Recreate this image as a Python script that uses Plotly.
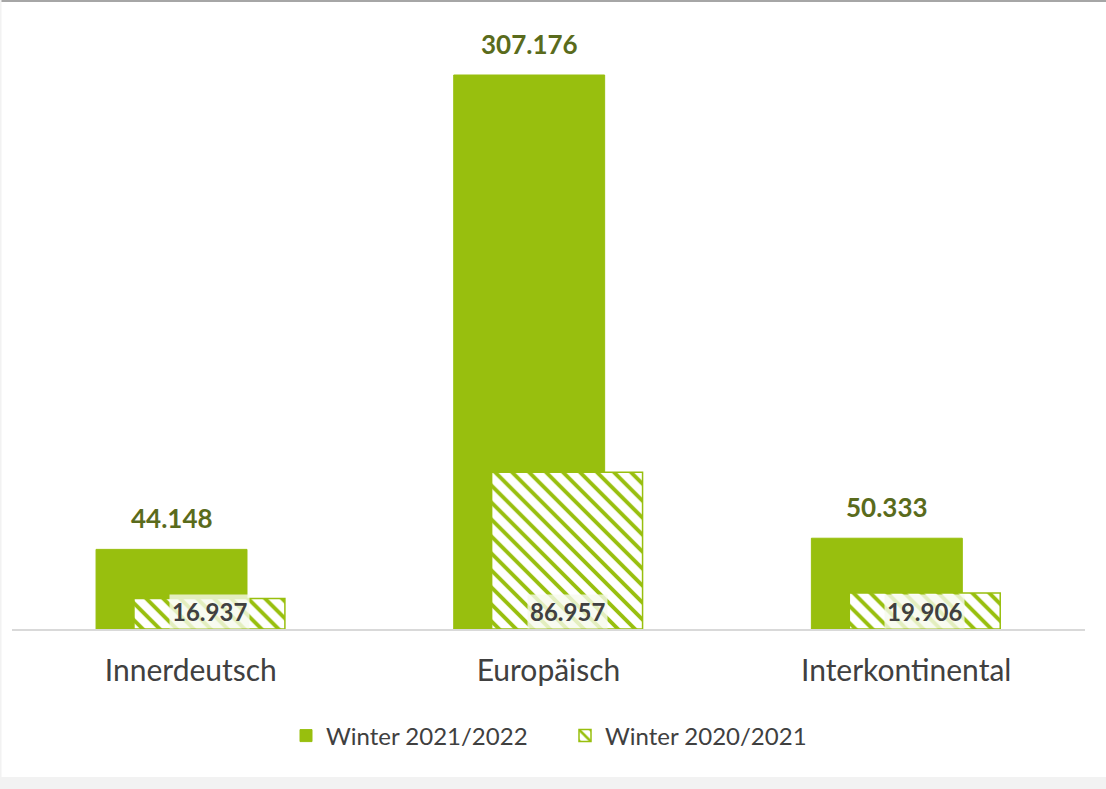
import plotly.graph_objects as go

categories = ["Innerdeutsch", "Europäisch", "Interkontinental"]
winter_2122 = [44148, 307176, 50333]
winter_2021 = [16937, 86957, 19906]
series_names = ["Winter 2021/2022", "Winter 2020/2021"]

GREEN = "#98bf0e"
LABEL_GREEN = "#5a6b1c"
TEXT = "#404040"

W, H = 1106, 789
ML, MR, MT, MB = 12, 21, 40, 160
plot_h = H - MT - MB
ymax = 307176 * plot_h / 554.0

bw = 0.422
off1 = -0.265
off2 = -0.159

def fmt(v):
    return f"{v:,}".replace(",", ".")

x_idx = list(range(len(categories)))

fig = go.Figure()
fig.add_trace(go.Bar(
    x=x_idx, y=winter_2122, name=series_names[0],
    width=bw, offset=off1,
    marker=dict(color=GREEN, line=dict(color=GREEN, width=1)),
))
fig.add_trace(go.Bar(
    x=x_idx, y=winter_2021, name=series_names[1],
    width=bw, offset=off2,
    marker=dict(color="white", line=dict(color=GREEN, width=1.5),
                pattern=dict(shape="\\", fgcolor=GREEN, bgcolor="white",
                             size=12, solidity=0.32, fillmode="replace")),
))

annotations = []
for i, v in enumerate(winter_2122):
    annotations.append(dict(
        x=i + off1 + bw / 2, y=v, xref="x", yref="y", text=fmt(v),
        showarrow=False, yanchor="bottom", yshift=13,
        font=dict(family="Lato", size=26, color=LABEL_GREEN, weight="bold"),
    ))
for i, v in enumerate(winter_2021):
    annotations.append(dict(
        x=i + off2 + bw / 2, y=0, xref="x", yref="y", text=fmt(v),
        showarrow=False, yanchor="bottom", yshift=0,
        bgcolor="rgba(246,250,236,0.8)", borderpad=2,
        font=dict(family="Lato", size=24, color=TEXT, weight="bold"),
    ))

pw = W - ML - MR
def px_x(px):
    return (px - ML) / pw
def px_y(py):
    return (H - MB - py) / plot_h

shapes = [
    dict(type="rect", xref="paper", yref="paper",
         x0=px_x(0), x1=px_x(W), y0=px_y(2), y1=px_y(0),
         fillcolor="#a6a6a6", line=dict(width=0), layer="below"),
    dict(type="rect", xref="paper", yref="paper",
         x0=px_x(0), x1=px_x(W), y0=px_y(H), y1=px_y(777),
         fillcolor="#f2f2f2", line=dict(width=0), layer="below"),
    dict(type="rect", xref="paper", yref="paper",
         x0=px_x(0), x1=px_x(1.5), y0=px_y(H), y1=px_y(0),
         fillcolor="#f2f2f2", line=dict(width=0), layer="below"),
]

fig.update_layout(
    width=W, height=H,
    margin=dict(l=ML, r=MR, t=MT, b=MB),
    paper_bgcolor="white", plot_bgcolor="white",
    barmode="overlay",
    showlegend=True,
    legend=dict(orientation="h", x=px_x(286), xanchor="left", y=px_y(736), yanchor="middle",
                font=dict(family="Lato", size=24, color=TEXT), itemwidth=30,
                entrywidth=234, entrywidthmode="pixels",
                traceorder="normal"),
    xaxis=dict(
        tickmode="array", tickvals=x_idx, ticktext=categories,
        range=[-0.5, len(categories) - 0.5],
        showline=True, linecolor="#d9d9d9", linewidth=1.5,
        ticks="outside", ticklen=14, tickcolor="rgba(0,0,0,0)",
        tickfont=dict(family="Lato", size=30, color=TEXT),
        showgrid=False, zeroline=False,
    ),
    yaxis=dict(range=[0, ymax], visible=False, showgrid=False, zeroline=False),
    annotations=annotations,
    shapes=shapes,
)

fig.write_html("out.html", config={"displayModeBar": False},
               post_script="document.body.style.margin='0px';")
